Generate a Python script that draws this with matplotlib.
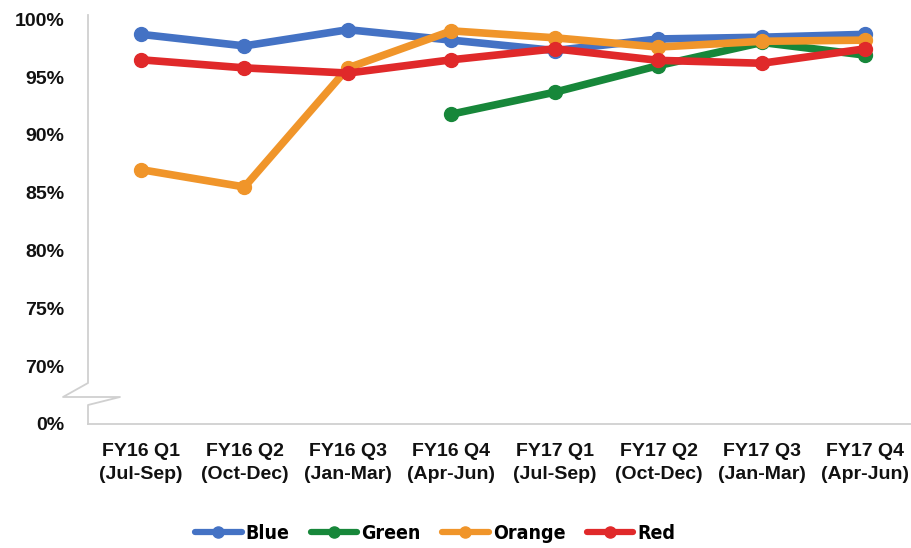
import matplotlib.pyplot as plt

quarters = ['FY16 Q1\n(Jul-Sep)', 'FY16 Q2\n(Oct-Dec)', 'FY16 Q3\n(Jan-Mar)', 'FY16 Q4\n(Apr-Jun)',
            'FY17 Q1\n(Jul-Sep)', 'FY17 Q2\n(Oct-Dec)', 'FY17 Q3\n(Jan-Mar)', 'FY17 Q4\n(Apr-Jun)']
blue = [98.7, 97.7, 99.1, 98.2, 97.3, 98.3, 98.45, 98.7]
green = [None, None, None, 91.8, 93.7, 96.0, 98.0, 96.9]
orange = [87.0, 85.5, 95.8, 99.0, 98.4, 97.6, 98.1, 98.2]
red = [96.5, 95.8, 95.35, 96.5, 97.45, 96.45, 96.2, 97.45]

y_ticks = [65, 70, 75, 80, 85, 90, 95, 100]
y_labels = ['0%', '70%', '75%', '80%', '85%', '90%', '95%', '100%']

series = [('Blue', blue, '#4472C4'), ('Green', green, '#17873A'),
          ('Orange', orange, '#F0952A'), ('Red', red, '#E0292A')]

fig = plt.figure(figsize=(9.12, 5.48), dpi=100)
ax = fig.add_axes([88 / 912, 124 / 548, 824 / 912, 407 / 548])

x = list(range(len(quarters)))
for name, vals, col in series:
    xs = [i for i, v in zip(x, vals) if v is not None]
    ys = [v for v in vals if v is not None]
    ax.plot(xs, ys, color=col, lw=5.5, marker='o', ms=10, label=name, solid_capstyle='round')

ax.set_xlim(-0.512, 7.45)
ax.set_ylim(65, 100.2)
ax.set_yticks(y_ticks)
ax.set_yticklabels(y_labels)
ax.set_xticks(x)
ax.set_xticklabels(quarters, linespacing=1.45)
ax.tick_params(length=0, labelsize=14, colors='#111111')
ax.tick_params(axis='y', pad=17)
ax.tick_params(axis='x', pad=14)
for lab in ax.get_xticklabels() + ax.get_yticklabels():
    lab.set_fontweight('bold')
    lab.set_fontfamily('Liberation Sans')

for s in ['top', 'right', 'left']:
    ax.spines[s].set_visible(False)
ax.spines['bottom'].set_color('#D0D0D0')
ax.spines['bottom'].set_linewidth(1.3)

# broken y axis
px = [88, 88, 63, 120, 88, 88]
py = [15, 383, 397, 397, 405, 424]
bx = [(p - 88) / 824 for p in px]
by = [(424 - p) / 407 for p in py]
ax.plot(bx, by, transform=ax.transAxes, color='#D0D0D0', lw=1.3, clip_on=False, zorder=0)

leg = fig.legend(loc='center', bbox_to_anchor=(0.477, 0.027), ncol=4, frameon=False,
                 handlelength=2.4, columnspacing=1.1, handletextpad=0.2,
                 prop={'family': 'DejaVu Sans', 'stretch': 'condensed', 'weight': 'bold', 'size': 14})
for line in leg.get_lines():
    line.set_markersize(8)
    line.set_linewidth(4.5)

fig.savefig('out.png', dpi=100)
